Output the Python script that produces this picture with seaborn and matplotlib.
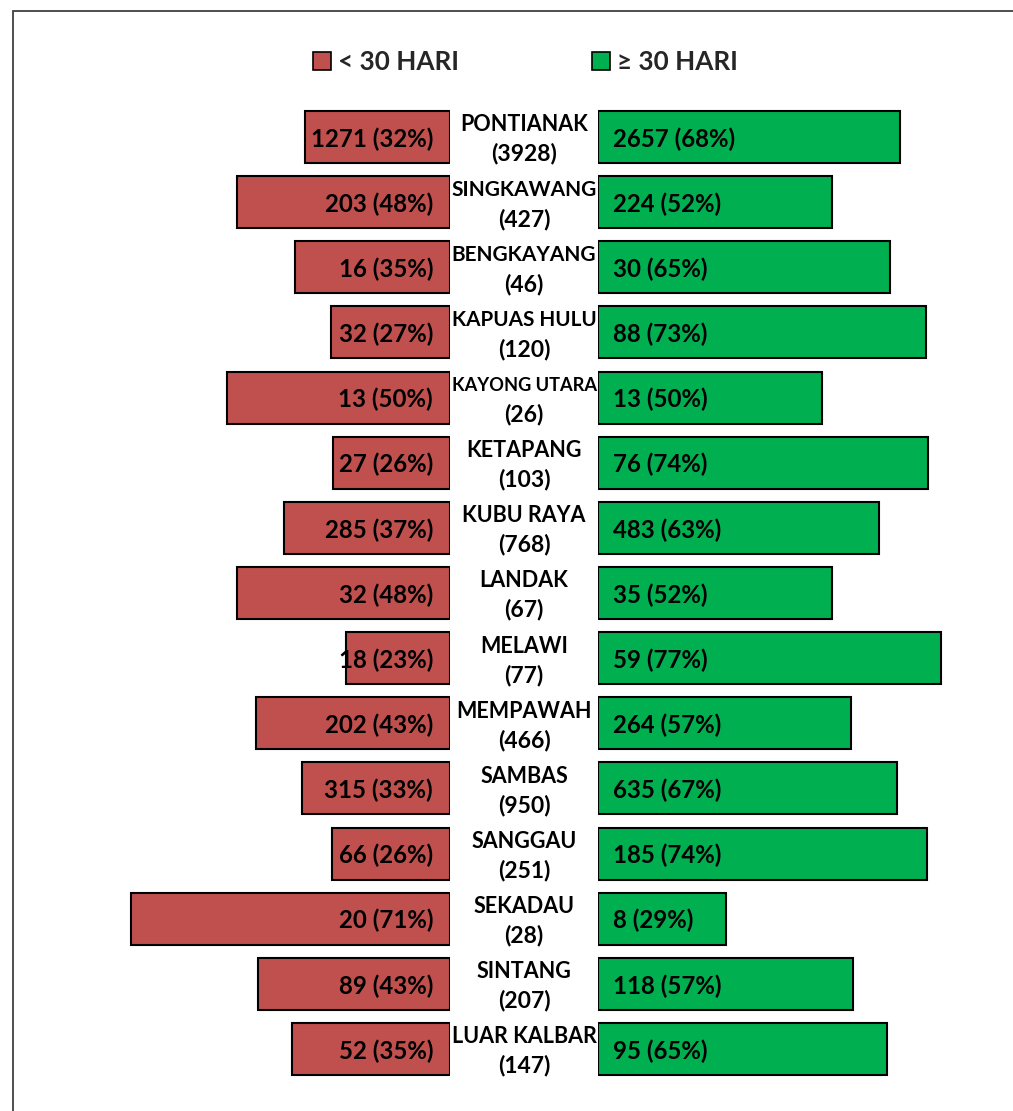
import matplotlib
matplotlib.use("Agg")
import matplotlib.pyplot as plt
import matplotlib.transforms as mtransforms
from matplotlib.patches import Patch, Rectangle
import seaborn as sns
import pandas as pd

# ---------------- data ----------------
regions = ["PONTIANAK", "SINGKAWANG", "BENGKAYANG", "KAPUAS HULU", "KAYONG UTARA",
           "KETAPANG", "KUBU RAYA", "LANDAK", "MELAWI", "MEMPAWAH", "SAMBAS",
           "SANGGAU", "SEKADAU", "SINTANG", "LUAR KALBAR"]
under_30 = [1271, 203, 16, 32, 13, 27, 285, 32, 18, 202, 315, 66, 20, 89, 52]
over_30 = [2657, 224, 30, 88, 13, 76, 483, 35, 59, 264, 635, 185, 8, 118, 95]
legend_labels = ["< 30 HARI", "\u2265 30 HARI"]

totals = [a + b for a, b in zip(under_30, over_30)]
pct_under = [a / t * 100 for a, t in zip(under_30, totals)]
pct_over = [b / t * 100 for b, t in zip(over_30, totals)]
df = pd.DataFrame({"region": regions, "under": pct_under, "over": pct_over})

# ---------------- style ----------------
sns.set_theme(style="white")
plt.rcParams["font.family"] = ["Lato", "DejaVu Sans"]
RED = "#C0504D"
GREEN = "#00B050"

W, H = 1013, 1111
fig = plt.figure(figsize=(W / 100, H / 100), dpi=100)
PX_PER_PCT = 4.47
y_top, y_bot = 104.4, 1081.6
bottom = 1 - y_bot / H
height = (y_bot - y_top) / H

# left axes: pixels 0 -> 450 (inverted x)
axL = fig.add_axes([0, bottom, 450 / W, height])
# right axes: pixels 598 -> 1013
axR = fig.add_axes([598 / W, bottom, (W - 598) / W, height])

sns.barplot(data=df, x="under", y="region", orient="h", color=RED, width=0.8,
            edgecolor="black", linewidth=1.5, saturation=1, ax=axL)
sns.barplot(data=df, x="over", y="region", orient="h", color=GREEN, width=0.8,
            edgecolor="black", linewidth=1.5, saturation=1, ax=axR)

axL.set_xlim(450 / PX_PER_PCT, 0)
axR.set_xlim(0, (W - 598) / PX_PER_PCT)
for ax in (axL, axR):
    ax.set_ylim(len(regions) - 0.5, -0.5)
    ax.axis("off")

LABEL_FS = 17.3
for i, (a, b, pa, pb) in enumerate(zip(under_30, over_30, pct_under, pct_over)):
    axL.text(17 / PX_PER_PCT, i + 0.03, f"{a} ({round(pa)}%)", ha="right", va="center",
             fontsize=LABEL_FS, fontweight="bold", color="black", clip_on=False)
    axR.text(15 / PX_PER_PCT, i + 0.03, f"{b} ({round(pb)}%)", ha="left", va="center",
             fontsize=LABEL_FS, fontweight="bold", color="black", clip_on=False)

# center labels
trans = mtransforms.blended_transform_factory(fig.transFigure, axR.transData)
xc = 524 / W
fig.canvas.draw()
renderer = fig.canvas.get_renderer()
NAME_FS = 15.5
MAX_W = 145
for i, (name, t) in enumerate(zip(regions, totals)):
    txt = fig.text(xc, i - 0.185, name, transform=trans, ha="center", va="center",
                   fontsize=NAME_FS, fontweight="bold", color="black")
    w = txt.get_window_extent(renderer).width
    if w > MAX_W:
        txt.set_fontsize(NAME_FS * MAX_W / w)
    fig.text(xc, i + 0.26, f"({t})", transform=trans, ha="center", va="center",
             fontsize=16.5, fontweight="bold", color="black")

# legend
handles = [Patch(facecolor=RED, edgecolor="black", linewidth=1.2),
           Patch(facecolor=GREEN, edgecolor="black", linewidth=1.2)]
fig.legend(handles, legend_labels, loc="center", bbox_to_anchor=(525.5 / W, 1 - 62 / H),
           ncol=2, frameon=False, prop={"size": 18.8, "weight": "bold"},
           handlelength=0.7, handleheight=0.7, handletextpad=0.25, columnspacing=5.1)

# border (top and left visible)
fig.add_artist(Rectangle((13 / W, 0 - 0.05), 1.2, 1 - 11 / H + 0.05, transform=fig.transFigure,
                         fill=False, edgecolor="#404040", linewidth=1.3))

fig.savefig("out.png", dpi=100)
